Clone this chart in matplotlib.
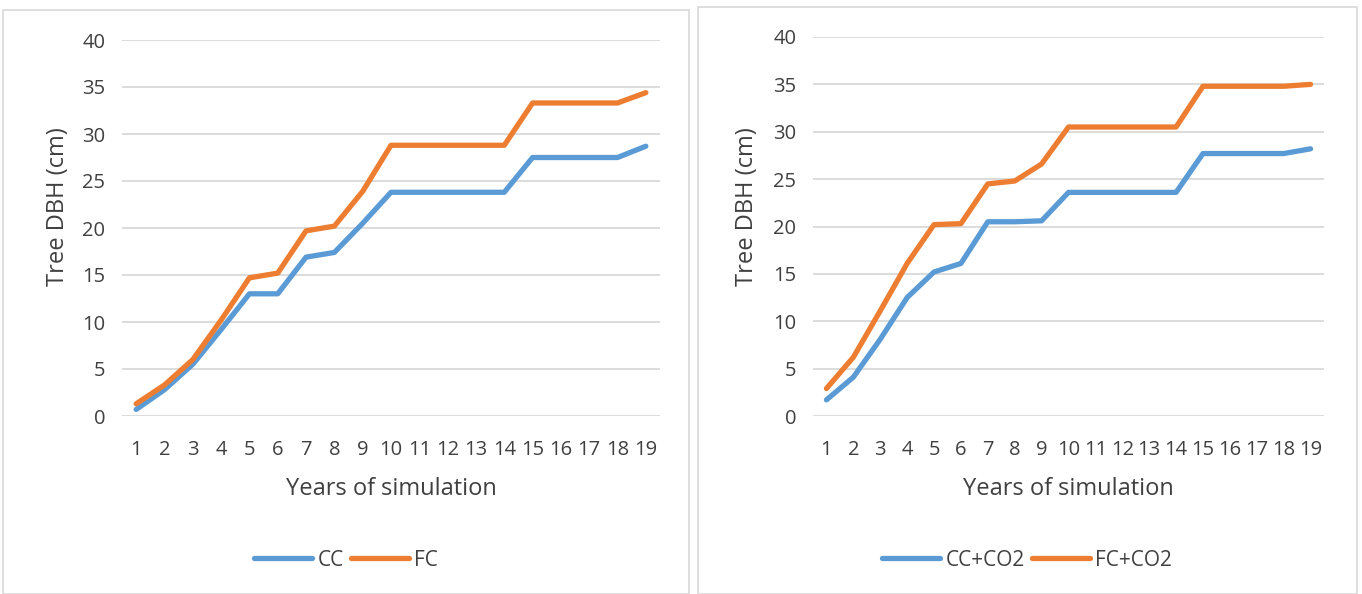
import matplotlib.pyplot as plt
from matplotlib.patches import Rectangle

# data
years = list(range(1, 20))
cc = [0.7, 2.8, 5.5, 9.2, 13.0, 13.0, 16.9, 17.4, 20.5, 23.8, 23.8, 23.8, 23.8, 23.8, 27.5, 27.5, 27.5, 27.5, 28.7]
fc = [1.3, 3.3, 6.0, 10.2, 14.7, 15.2, 19.7, 20.2, 23.9, 28.8, 28.8, 28.8, 28.8, 28.8, 33.3, 33.3, 33.3, 33.3, 34.4]
cc_co2 = [1.7, 4.1, 8.1, 12.5, 15.2, 16.1, 20.5, 20.5, 20.6, 23.6, 23.6, 23.6, 23.6, 23.6, 27.7, 27.7, 27.7, 27.7, 28.2]
fc_co2 = [2.9, 6.2, 11.1, 16.1, 20.2, 20.3, 24.5, 24.8, 26.6, 30.5, 30.5, 30.5, 30.5, 30.5, 34.8, 34.8, 34.8, 34.8, 35.0]

blue = '#5B9BD5'
orange = '#ED7D31'
grid_col = '#D9D9D9'
text_col = '#404040'

plt.rcParams['font.family'] = ['Open Sans', 'DejaVu Sans']

W, H = 1362, 594
fig = plt.figure(figsize=(W / 100, H / 100), dpi=100)

# chart frames
fig.patches.append(Rectangle((3 / W, 0), 686 / W, 1 - 10 / H, transform=fig.transFigure,
                             fill=False, edgecolor=grid_col, linewidth=1.2))
fig.patches.append(Rectangle((698 / W, 0), 659 / W, 1 - 7 / H, transform=fig.transFigure,
                             fill=False, edgecolor=grid_col, linewidth=1.2))

# (plot box in px), series, legend names, legend centre x, y-label centre x
panels = [
    ((122, 660, 40, 416), cc, fc, ['CC', 'FC'], 346, 58),
    ((813, 1324, 37, 416), cc_co2, fc_co2, ['CC+CO2', 'FC+CO2'], 1027, 747),
]

for (x0, x1, ytop, ybot), s1, s2, names, legx, ylx in panels:
    ax = fig.add_axes([x0 / W, 1 - ybot / H, (x1 - x0) / W, (ybot - ytop) / H])
    ax.plot(years, s1, color=blue, lw=3.8, solid_capstyle='round', solid_joinstyle='round', label=names[0])
    ax.plot(years, s2, color=orange, lw=3.8, solid_capstyle='round', solid_joinstyle='round', label=names[1])
    ax.set_xlim(0.5, 19.5)
    ax.set_ylim(0, 40)
    ax.set_yticks(range(0, 41, 5))
    ax.set_xticks(years)
    ax.grid(axis='y', color=grid_col, lw=1.3)
    ax.set_axisbelow(True)
    for sp in ax.spines.values():
        sp.set_visible(False)
    ax.tick_params(length=0, labelsize=14.5, colors=text_col, pad=12)
    ax.tick_params(axis='x', pad=17)
    fig.text((x0 + x1) / 2 / W, 1 - 489 / H, 'Years of simulation', fontsize=17, color=text_col,
             ha='center', va='center')
    fig.text(ylx / W, 1 - 207 / H, 'Tree DBH (cm)', fontsize=17, color=text_col,
             ha='center', va='center', rotation=90)
    fig.legend(handles=ax.get_lines(), labels=names, loc='center', bbox_to_anchor=(legx / W, 1 - 560 / H),
               ncol=2, frameon=False, fontsize=15, handlelength=2.8, columnspacing=0.35, handletextpad=0.25,
               labelcolor=text_col)

fig.savefig('out.png', dpi=100)
